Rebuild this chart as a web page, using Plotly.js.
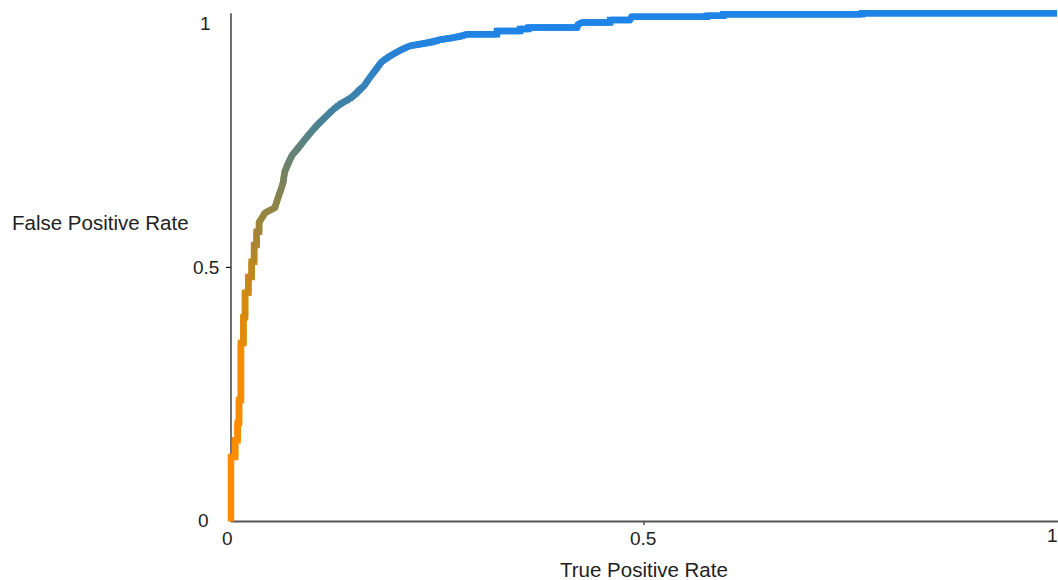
<!DOCTYPE html>
<html><head><meta charset="utf-8">
<script src="https://cdn.plot.ly/plotly-3.0.1.min.js"></script>
<style>html,body{margin:0;padding:0;background:#fff}#chart{width:1058px;height:580px}</style>
</head><body><div id="chart"></div>
<script>
// ROC curve values (x = "True Positive Rate", y = "False Positive Rate")
const truePositiveRate = [0, 0, 0.005, 0.005, 0.008, 0.008, 0.0097, 0.0097, 0.012, 0.012, 0.015, 0.015, 0.017, 0.017, 0.021, 0.021, 0.025, 0.025, 0.028, 0.028, 0.031, 0.031, 0.034, 0.034, 0.0375, 0.041, 0.047, 0.053, 0.056, 0.059, 0.063, 0.065, 0.069, 0.074, 0.080, 0.086, 0.093, 0.099, 0.105, 0.111, 0.117, 0.123, 0.130, 0.136, 0.144, 0.150, 0.156, 0.161, 0.166, 0.172, 0.177, 0.182, 0.188, 0.195, 0.201, 0.208, 0.217, 0.226, 0.237, 0.247, 0.253, 0.269, 0.280, 0.286, 0.322, 0.322, 0.350, 0.350, 0.360, 0.360, 0.419, 0.420, 0.425, 0.459, 0.459, 0.483, 0.485, 0.576, 0.576, 0.596, 0.596, 0.764, 0.764, 1];
const falsePositiveRate = [0, 0.127, 0.127, 0.160, 0.160, 0.194, 0.194, 0.239, 0.239, 0.351, 0.351, 0.402, 0.402, 0.450, 0.450, 0.481, 0.481, 0.511, 0.511, 0.544, 0.544, 0.570, 0.570, 0.589, 0.597, 0.607, 0.613, 0.617, 0.633, 0.646, 0.666, 0.688, 0.705, 0.721, 0.731, 0.745, 0.759, 0.770, 0.782, 0.790, 0.800, 0.810, 0.820, 0.825, 0.831, 0.839, 0.851, 0.857, 0.869, 0.883, 0.892, 0.904, 0.912, 0.918, 0.924, 0.930, 0.936, 0.938, 0.942, 0.944, 0.948, 0.952, 0.955, 0.959, 0.959, 0.965, 0.965, 0.969, 0.969, 0.972, 0.972, 0.978, 0.982, 0.982, 0.987, 0.987, 0.993, 0.993, 0.995, 0.995, 0.998, 0.998, 1.0, 1.0];
const xTickValues = [0, 0.5, 1];
const xTickLabels = ['0', '0.5', '1'];
const yTickValues = [0, 0.5, 1];
const yTickLabels = ['0', '0.5', '1'];
const xTitle = 'True Positive Rate';
const yTitle = 'False Positive Rate';

// colour ramp (style), keyed on the curve's y value
const ramp = [[0,[255,140,0]],[0.25,[250,140,0]],[0.4,[222,139,8]],[0.5,[190,136,28]],[0.6,[150,132,62]],[0.7,[110,130,106]],[0.8,[70,130,156]],[0.9,[44,131,203]],[0.97,[30,132,232]],[1,[30,132,232]]];
function colorAt(v){
  for (let k = 0; k < ramp.length - 1; k++){
    const a = ramp[k], b = ramp[k+1];
    if (v <= b[0]){
      const t = Math.max(0, (v - a[0]) / (b[0] - a[0]));
      const c = a[1].map((ch, j) => Math.round(ch + (b[1][j] - ch) * t));
      return 'rgb(' + c.join(',') + ')';
    }
  }
  const c = ramp[ramp.length-1][1];
  return 'rgb(' + c.join(',') + ')';
}

const n = truePositiveRate.length;
const traces = [];
for (let i = 0; i < n - 1; i++){
  const end = Math.min(i + 2, n - 1);
  traces.push({
    type: 'scatter', mode: 'lines',
    x: truePositiveRate.slice(i, end + 1),
    y: falsePositiveRate.slice(i, end + 1),
    line: {color: colorAt((falsePositiveRate[i] + falsePositiveRate[i+1]) / 2), width: 6.5},
    hoverinfo: 'skip', showlegend: false
  });
}

const font = 'Liberation Sans, Arial, Helvetica, sans-serif';
const tickFont = {family: font, size: 19, color: '#222'};
const titleFont = {family: font, size: 20.5, color: '#222'};

const shapes = [
  {type: 'line', layer: 'below', xref: 'x', yref: 'y', x0: 0, x1: 1.0012, y0: 0, y1: 0, line: {color: '#555', width: 1.8}},
  {type: 'line', layer: 'below', xref: 'x', yref: 'y', x0: 0, x1: 0, y0: 0, y1: 1, line: {color: '#111', width: 1.2}},
  {type: 'line', layer: 'below', xref: 'x', yref: 'y', ysizemode: 'pixel', yanchor: 0, x0: xTickValues[1], x1: xTickValues[1], y0: 0, y1: -6, line: {color: '#555', width: 1.5}},
  {type: 'line', layer: 'below', xref: 'x', yref: 'y', xsizemode: 'pixel', xanchor: 0, x0: -6, x1: 0, y0: yTickValues[1], y1: yTickValues[1], line: {color: '#111', width: 1.2}}
];

const xShift = [-3.5, -1, -5];
const xYShift = [-16.5, -17, -14];
const yXShift = [-27.5, -25.5, -26];
const yYShift = [1.5, 0, -9.7];
const annotations = [];
xTickValues.forEach((v, i) => annotations.push({xref: 'x', yref: 'y', x: v, y: 0, text: xTickLabels[i], showarrow: false, xanchor: 'center', yanchor: 'middle', xshift: xShift[i], yshift: xYShift[i], font: tickFont}));
yTickValues.forEach((v, i) => annotations.push({xref: 'x', yref: 'y', x: 0, y: v, text: yTickLabels[i], showarrow: false, xanchor: 'center', yanchor: 'middle', xshift: yXShift[i], yshift: yYShift[i], font: tickFont}));
annotations.push({xref: 'x', yref: 'y', x: 0.5, y: 0, text: xTitle, showarrow: false, xanchor: 'center', yanchor: 'middle', yshift: -47.5, font: titleFont});
annotations.push({xref: 'x', yref: 'y', x: 0, y: 0.5893, text: yTitle, showarrow: false, xanchor: 'center', yanchor: 'middle', xshift: -131, font: titleFont});

const layout = {
  width: 1058, height: 580, autosize: false,
  paper_bgcolor: '#fff', plot_bgcolor: '#fff',
  margin: {l: 226, r: 0, t: 9, b: 55, pad: 0},
  xaxis: {range: [-5/826, 827/826], showgrid: false, zeroline: false, showline: false, showticklabels: false, ticks: '', fixedrange: true},
  yaxis: {range: [-3.5/508.2, 512.5/508.2], showgrid: false, zeroline: false, showline: false, showticklabels: false, ticks: '', fixedrange: true},
  shapes: shapes,
  annotations: annotations,
  showlegend: false
};

Plotly.newPlot('chart', traces, layout, {staticPlot: true, displayModeBar: false});
</script>
</body></html>
